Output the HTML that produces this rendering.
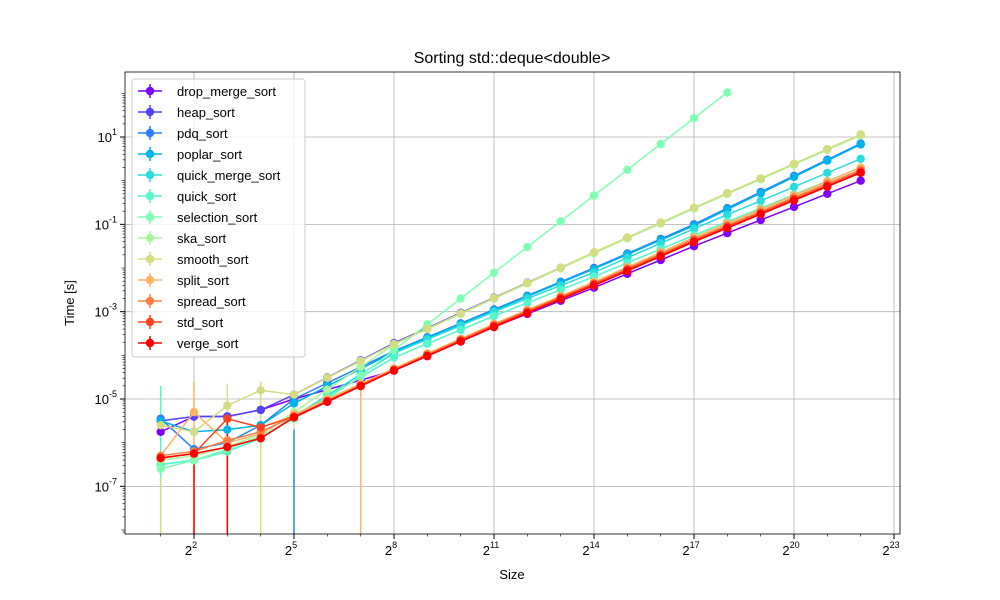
<!DOCTYPE html>
<html><head><meta charset="utf-8"><style>body{margin:0;background:#fff}svg{display:block;font-family:"Liberation Sans","DejaVu Sans",sans-serif}</style></head>
<body><svg id="s" width="1000" height="600" xmlns="http://www.w3.org/2000/svg"></svg>
<script>
const s=document.getElementById('s');let h='';
const X=p=>194+(p-2)*33.333, Y=e=>137+(1-e)*43.67;
const L=125,R=900,T=72,B=534;
h+='<rect width="1000" height="600" fill="#fff"/>';
h+='<defs><clipPath id="c"><rect x="'+L+'" y="'+T+'" width="'+(R-L)+'" height="'+(B-T)+'"/></clipPath></defs>';
for(let p=2;p<=23;p+=3){const x=X(p);h+=`<line x1="${x}" x2="${x}" y1="${T}" y2="${B}" stroke="#b0b0b0" stroke-width="0.8"/><line x1="${x}" x2="${x}" y1="${B}" y2="${B+5}" stroke="#000"/><text x="${x-3}" y="${B+21}" font-size="13" text-anchor="middle">2<tspan font-size="9" dy="-7">${p}</tspan></text>`;}
for(let e=1;e>=-7;e-=2){const y=Y(e);h+=`<line x1="${L}" x2="${R}" y1="${y}" y2="${y}" stroke="#b0b0b0" stroke-width="0.8"/><line x1="${L-5}" x2="${L}" y1="${y}" y2="${y}" stroke="#000"/><text x="${L-8}" y="${y+5}" font-size="13" text-anchor="end">10<tspan font-size="9" dy="-7">${e}</tspan></text>`;}
for(let e=2;e>=-8;e--){for(let k=2;k<10;k++){const y=Y(e+Math.log10(k)-1);if(y>T&&y<B)h+=`<line x1="${L-2.5}" x2="${L}" y1="${y}" y2="${y}" stroke="#000" stroke-width="0.6"/>`;}const y=Y(e);if(e%2==0&&y>T&&y<B)h+=`<line x1="${L-3.5}" x2="${L}" y1="${y}" y2="${y}" stroke="#000" stroke-width="0.6"/>`;}
for(let p=1;p<=23;p++){if((p-2)%3){const x=X(p);h+=`<line x1="${x}" x2="${x}" y1="${B}" y2="${B+2.5}" stroke="#000" stroke-width="0.6"/>`;}}
const V=[-4.35,-3.35,-2.4,-1.4,0.18];
const S=[
["drop_merge_sort","#8000ff",[-4.35,-3.35,-2.45,-1.5,0.0],{1:-5.75,2:-5.4,3:-5.4,4:-5.25,5:-5.0}],
["heap_sort","#5542fd",[-3.72,-2.68,-1.65,-0.63,1.05],{1:-5.5,2:-5.4,3:-5.4,4:-5.25,5:-4.9}],
["pdq_sort","#2a80f6",[-3.9,-2.95,-2.0,-1.0,0.85],{1:-5.45,2:-6.15,3:-6.0,4:-5.6,5:-5.0}],
["poplar_sort","#00b4eb",[-3.92,-2.97,-2.02,-1.03,0.83],{1:-5.5,2:-5.75,3:-5.7,4:-5.6,5:-5.1}],
["quick_merge_sort","#2adddd",[-3.95,-3.0,-2.1,-1.1,0.5],{1:-6.5,2:-6.4,3:-6.2,4:-5.9,5:-5.4}],
["quick_sort","#55f6ca",[-4.05,-3.1,-2.2,-1.25,0.3],{1:-6.5,2:-6.4,3:-6.2,4:-5.9,5:-5.4}],
["selection_sort","#80ffb4",null,null],
["ska_sort","#aaf69b",[-3.75,-2.7,-1.66,-0.64,1.04],{1:-6.4,2:-6.3,3:-6.1,4:-5.8,5:-5.3}],
["smooth_sort","#d4dd80",[-3.74,-2.69,-1.64,-0.62,1.06],{1:-5.6,2:-5.75,3:-5.15,4:-4.8,5:-4.9}],
["split_sort","#ffb462",[-4.3,-3.28,-2.32,-1.3,0.3],{1:-6.3,2:-5.3,3:-6.0,4:-5.8,5:-5.35}],
["spread_sort","#ff8042",[-4.32,-3.3,-2.35,-1.34,0.25],{1:-6.3,2:-6.2,3:-5.95,4:-5.75,5:-5.4}],
["std_sort","#ff4221",[-4.34,-3.32,-2.37,-1.37,0.21],{1:-6.35,2:-6.25,3:-5.45,4:-5.65,5:-5.4}],
["verge_sort","#ff0000",V,{1:-6.35,2:-6.25,3:-6.1,4:-5.9,5:-5.42}]];
const AP=[8,11,14,17,22];
function interp(a,p){for(let i=0;i<4;i++){if(p<=AP[i+1]){const t=(p-AP[i])/(AP[i+1]-AP[i]);return a[i]+t*(a[i+1]-a[i]);}}return a[4];}
const eb=[[1,-4.7,"#55f6ca"],[1,-6.8,"#d4dd80"],[2,-4.6,"#ffb462"],[2,-6.3,"#ff0000"],[3,-4.65,"#d4dd80"],[3,-5.5,"#ff0000"],[4,-4.6,"#d4dd80"],[5,-5.7,"#2a80f6"],[7,-4.8,"#ffb462"]];
let g='<g clip-path="url(#c)">';
eb.forEach(([p,e,c])=>{g+=`<line x1="${X(p)}" x2="${X(p)}" y1="${Y(e)}" y2="${B+5}" stroke="${c}" stroke-width="1.5"/>`;});
S.forEach(([n,c,A,o])=>{let pts=[];
 if(A===null){const sm=[-6.6,-6.4,-6.15,-5.85,-5.45,-5.0,-4.47];for(let p=1;p<=18;p++){let e=p<8?sm[p-1]:-3.88+0.59*(p-8);pts.push([p,e]);}}
 else for(let p=1;p<=22;p++){let e;if(o[p]!==undefined)e=o[p];else if(p<8){const t=(p-5)/3;e=o[5]+t*(A[0]-o[5]);}else e=interp(A,p);pts.push([p,e]);}
 g+=`<polyline fill="none" stroke="${c}" stroke-width="1.5" points="${pts.map(q=>X(q[0]).toFixed(1)+','+Y(q[1]).toFixed(1)).join(' ')}"/>`;
 pts.forEach(q=>{g+=`<circle cx="${X(q[0]).toFixed(1)}" cy="${Y(q[1]).toFixed(1)}" r="4.2" fill="${c}"/>`;});
});
g+='</g>';h+=g;
h+=`<rect x="${L}" y="${T}" width="${R-L}" height="${B-T}" fill="none" stroke="#000" stroke-width="0.8"/>`;
h+='<text x="512" y="63" font-size="16" text-anchor="middle">Sorting std::deque&lt;double&gt;</text>';
h+='<text x="512" y="579" font-size="13" text-anchor="middle">Size</text>';
h+='<text transform="translate(74,303) rotate(-90)" font-size="13" text-anchor="middle">Time [s]</text>';
h+='<rect x="132" y="79" width="173" height="278" rx="3" fill="#fff" fill-opacity="0.8" stroke="#ccc"/>';
S.forEach(([n,c],i)=>{const y=91+i*21;h+=`<line x1="138" x2="162" y1="${y}" y2="${y}" stroke="${c}" stroke-width="1.5"/><line x1="150" x2="150" y1="${y-7}" y2="${y+7}" stroke="${c}" stroke-width="1.5"/><circle cx="150" cy="${y}" r="4.2" fill="${c}"/><text x="177" y="${y+5}" font-size="13">${n}</text>`;});
s.innerHTML=h;
</script></body></html>
